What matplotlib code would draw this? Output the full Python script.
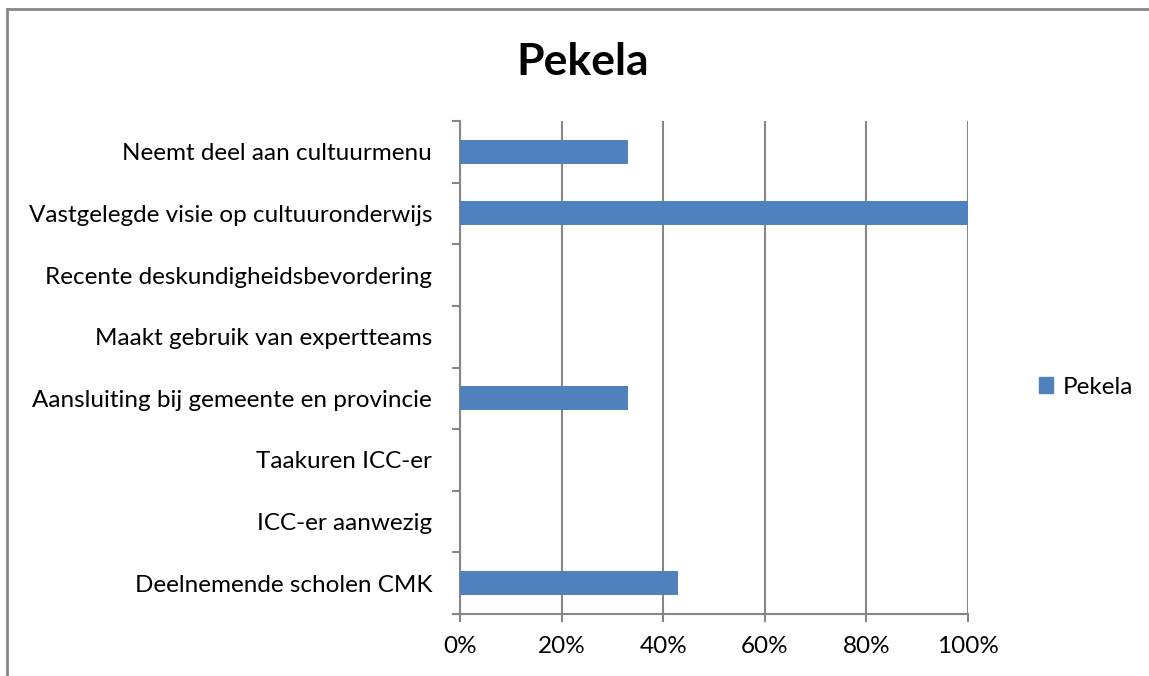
import matplotlib
matplotlib.use('Agg')
import matplotlib.pyplot as plt
from matplotlib.lines import Line2D
from matplotlib.patches import Patch
import numpy as np

# data, top to bottom as shown
categories = ['Neemt deel aan cultuurmenu',
              'Vastgelegde visie op cultuuronderwijs',
              'Recente deskundigheidsbevordering',
              'Maakt gebruik van expertteams',
              'Aansluiting bij gemeente en provincie',
              'Taakuren ICC-er',
              'ICC-er aanwezig',
              'Deelnemende scholen CMK']
values = [0.33, 1.0, 0.0, 0.0, 0.33, 0.0, 0.0, 0.43]
series_name = 'Pekela'
xticks = [0, 0.2, 0.4, 0.6, 0.8, 1.0]
xticklabels = ['0%', '20%', '40%', '60%', '80%', '100%']

plt.rcParams['font.family'] = ['Lato', 'DejaVu Sans']
bar_color = '#4F81BD'
grid_color = '#868686'
fs = 17.5

fig = plt.figure(figsize=(11.49, 6.76), dpi=100)
W, H = 1149, 676
ax = fig.add_axes([460 / W, (H - 614) / H, (968 - 460) / W, (614 - 121) / H])

n = len(categories)
pos = n - 1 - np.arange(n) + 0.5
ax.barh(pos, values, height=0.39, color=bar_color, zorder=3)

ax.set_xlim(0, 1)
ax.set_ylim(0, n)
ax.set_xticks(xticks)
ax.set_xticklabels(xticklabels, fontsize=fs)
ax.set_yticks(np.arange(n + 1))
ax.set_yticklabels([])
ax.set_yticks(pos, minor=True)
ax.set_yticklabels(categories, minor=True, fontsize=fs)
ax.tick_params(axis='y', which='minor', length=0, pad=20)
ax.tick_params(axis='y', which='major', length=6, width=1.5, color=grid_color)
ax.tick_params(axis='x', length=6, width=1.5, color=grid_color, pad=10)
ax.grid(axis='x', color=grid_color, linewidth=1.5, zorder=0)
for s in ['top', 'right']:
    ax.spines[s].set_visible(False)
for s in ['left', 'bottom']:
    ax.spines[s].set_color(grid_color)
    ax.spines[s].set_linewidth(1.5)

fig.text(583 / W, 1 - 62 / H, 'Pekela', ha='center', va='center',
         fontsize=32, fontweight='bold')

fig.legend(handles=[Patch(color=bar_color, label=series_name)],
           loc='center left', bbox_to_anchor=(1017 / W, 1 - 387 / H),
           frameon=False, fontsize=fs, handlelength=0.6, handleheight=0.6,
           handletextpad=0.4)

# chart frame (top and left edges visible)
fig.add_artist(Line2D([7 / W, 7 / W], [0, 1 - 9 / H], color='#888888',
                      linewidth=2, transform=fig.transFigure))
fig.add_artist(Line2D([7 / W, 1], [1 - 9 / H, 1 - 9 / H], color='#888888',
                      linewidth=2, transform=fig.transFigure))

fig.savefig('out.png', dpi=100)
